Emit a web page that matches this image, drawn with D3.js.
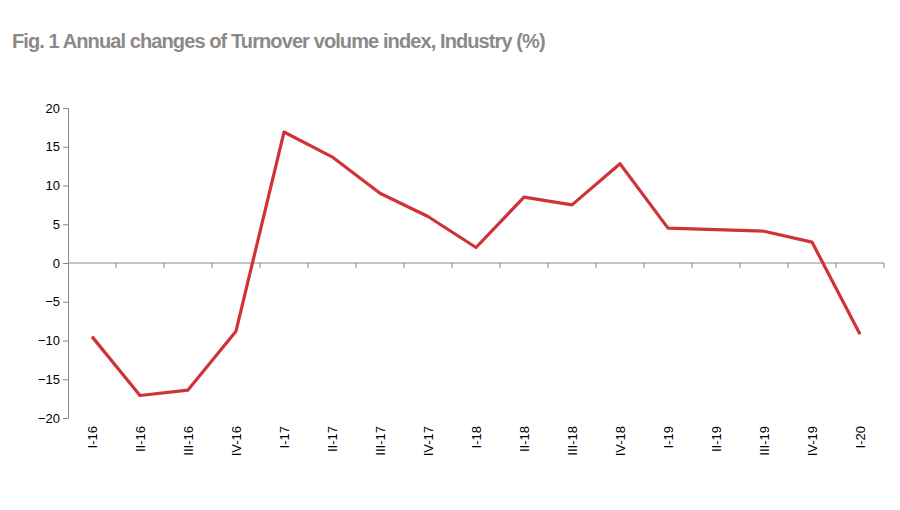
<!DOCTYPE html>
<html><head><meta charset="utf-8">
<script src="https://cdn.jsdelivr.net/npm/d3@7"></script>
<style>body{margin:0;background:#fff}</style>
</head><body><div id="chart"></div>
<script>
var categories = ["I-16","II-16","III-16","IV-16","I-17","II-17","III-17","IV-17","I-18","II-18","III-18","IV-18","I-19","II-19","III-19","IV-19","I-20"];
var values = [-9.5,-17.1,-16.4,-8.8,16.9,13.7,9.0,6.0,2.0,8.5,7.5,12.8,4.5,4.3,4.1,2.7,-9.2];
var yTicks = [20,15,10,5,0,-5,-10,-15,-20];

var svg = d3.select("#chart").append("svg").attr("width",900).attr("height",510);

svg.append("text").attr("x",12).attr("y",48)
  .style("font-family","Liberation Sans, Arial, sans-serif")
  .style("font-weight","bold").style("font-size","20px").style("fill","#8a8a8a")
  .style("letter-spacing","-0.9px")
  .text("Fig. 1 Annual changes of Turnover volume index, Industry (%)");

var plotLeft = 68, plotRight = 884, plotTop = 108, plotBottom = 418;
var y = d3.scaleLinear().domain([-20,20]).range([plotBottom, plotTop]);
var x = d3.scaleBand().domain(categories).range([plotLeft, plotRight]);

var yAxis = svg.append("g").attr("transform","translate("+plotLeft+",0)")
  .call(d3.axisLeft(y).tickValues(yTicks).tickSize(5).tickFormat(d3.format("d")));
yAxis.selectAll("text").style("font-family","Liberation Sans, Arial, sans-serif").style("font-size","13px").style("fill","#000");
yAxis.selectAll("line,path").attr("stroke","#888");

// zero line with ticks at category boundaries
var xAxis = svg.append("g").attr("transform","translate(0,"+y(0)+")");
xAxis.append("line").attr("x1",plotLeft).attr("x2",plotRight).attr("stroke","#888");
xAxis.selectAll("line.tk").data(categories).enter().append("line")
  .attr("x1",d=>x(d)+x.bandwidth()).attr("x2",d=>x(d)+x.bandwidth())
  .attr("y1",0).attr("y2",5).attr("stroke","#888");

svg.append("g").selectAll("text").data(categories).enter().append("text")
  .attr("transform",d=>"translate("+(x(d)+x.bandwidth()/2+5)+","+(plotBottom+8)+") rotate(-90)")
  .attr("text-anchor","end")
  .style("font-family","Liberation Sans, Arial, sans-serif").style("font-size","13px")
  .text(d=>d);

var line = d3.line().x((d,i)=>x(categories[i])+x.bandwidth()/2).y(d=>y(d));
svg.append("path").datum(values).attr("d",line)
  .attr("fill","none").attr("stroke","#cf3338").attr("stroke-width",3.2).attr("stroke-linejoin","round");
</script></body></html>
